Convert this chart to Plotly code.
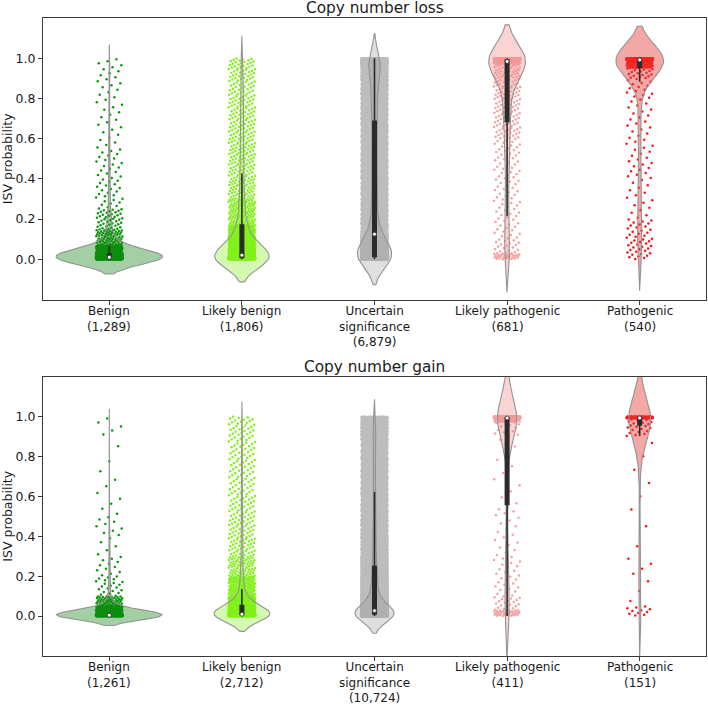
import numpy as np
import plotly.graph_objects as go

# ---------------- data ----------------
categories = ["Benign", "Likely benign", "Uncertain significance", "Likely pathogenic", "Pathogenic"]
loss_tick_labels = ["Benign<br>(1,289)", "Likely benign<br>(1,806)", "Uncertain<br>significance<br>(6,879)",
                    "Likely pathogenic<br>(681)", "Pathogenic<br>(540)"]
gain_tick_labels = ["Benign<br>(1,261)", "Likely benign<br>(2,712)", "Uncertain<br>significance<br>(10,724)",
                    "Likely pathogenic<br>(411)", "Pathogenic<br>(151)"]
y_ticks = [0.0, 0.2, 0.4, 0.6, 0.8, 1.0]

# ISV probability histograms (bin edges + number of CNVs per bin), copy number loss
loss_benign_edges = [0, .01, .03, .07, .15, .25, .4, .55, .7, .85, 1.0]
loss_benign_counts = [645, 330, 120, 70, 40, 25, 20, 12, 12, 15]
loss_lbenign_edges = [0, .01, .05, .1, .17, .3, .4, .5, .6, .7, .8, .9, 1.0]
loss_lbenign_counts = [850, 200, 140, 160, 120, 60, 50, 50, 45, 45, 40, 46]
loss_uncertain_edges = [0, .01, .05, .125, .2, .3, .4, .5, .6, .69, .8, .9, .97, 1.0]
loss_uncertain_counts = [1720, 800, 920, 300, 320, 300, 280, 270, 250, 350, 350, 350, 669]
loss_lpatho_edges = [0, .03, .1, .2, .3, .4, .5, .6, .67, .8, .9, .97, .99, 1.0]
loss_lpatho_counts = [30, 18, 17, 17, 17, 19, 22, 26, 50, 45, 45, 50, 325]
loss_patho_edges = [0, .1, .2, .3, .4, .5, .6, .7, .8, .9, .95, .99, 1.0]
loss_patho_counts = [25, 20, 8, 8, 12, 10, 10, 10, 15, 17, 80, 325]

# copy number gain
gain_benign_edges = [0, .005, .01, .05, .1, .2, .3, .4, .5, .6, .7, .8, .9, 1.0]
gain_benign_counts = [726, 250, 170, 52, 22, 12, 5, 9, 4, 3, 2, 1, 5]
gain_lbenign_edges = [0, .01, .05, .1, .2, .3, .4, .5, .6, .7, .8, .9, 1.0]
gain_lbenign_counts = [1500, 500, 250, 150, 70, 45, 40, 35, 30, 30, 30, 32]
gain_uncertain_edges = [0, .01, .03, .1, .2, .3, .4, .5, .6, .7, .8, .9, 1.0]
gain_uncertain_counts = [4000, 1600, 1200, 900, 650, 450, 350, 300, 280, 260, 250, 484]
gain_lpatho_edges = [0, .03, .1, .2, .3, .4, .5, .55, .7, .9, .97, .99, 1.0]
gain_lpatho_counts = [35, 20, 15, 13, 8, 7, 5, 5, 6, 12, 30, 255]
gain_patho_edges = [0, .05, .2, .3, .5, .7, .9, .94, .99, 1.0]
gain_patho_counts = [11, 3, 4, 2, 3, 3, 8, 15, 102]

# ---------------- styles ----------------
point_colors = ["#0c960c", "#86f01e", "#bdbdbd", "#f4a2a2", "#ff1212"]
violin_fills = ["rgba(16,128,16,0.38)", "rgba(124,240,20,0.33)", "rgba(150,150,150,0.30)",
                "rgba(240,128,128,0.35)", "rgba(230,60,60,0.45)"]
violin_line = "#939393"
box_color = "#2b2b2b"
text_color = "#1a1a1a"
FONT = "DejaVu Sans"


def expand(edges, counts):
    parts = []
    for lo, hi, n in zip(edges[:-1], edges[1:], counts):
        parts.append(lo + (np.arange(n) + 0.5) / n * (hi - lo))
    return np.concatenate(parts)


def radical_inverse(idx, base=3):
    out = np.zeros(len(idx))
    f = 1.0 / base
    k = idx.copy()
    while np.any(k > 0):
        out += f * (k % base)
        k = k // base
        f /= base
    return out


panels = [
    ("Copy number loss", loss_tick_labels,
     [(loss_benign_edges, loss_benign_counts), (loss_lbenign_edges, loss_lbenign_counts),
      (loss_uncertain_edges, loss_uncertain_counts), (loss_lpatho_edges, loss_lpatho_counts),
      (loss_patho_edges, loss_patho_counts)]),
    ("Copy number gain", gain_tick_labels,
     [(gain_benign_edges, gain_benign_counts), (gain_lbenign_edges, gain_lbenign_counts),
      (gain_uncertain_edges, gain_uncertain_counts), (gain_lpatho_edges, gain_lpatho_counts),
      (gain_patho_edges, gain_patho_counts)]),
]

W, H = 708, 708
ML, MR, MT, MB = 43, 2, 18, 52
BOTTOM_PX = H - MB            # bottom of lower frame, px from top
ph = H - MT - MB
top_frame_bottom = 299.5
low_frame_top = 376.5
domains = [[(BOTTOM_PX - top_frame_bottom) / ph, 1.0], [0.0, (BOTTOM_PX - low_frame_top) / ph]]

fig = go.Figure()
annotations = []
for p, (title, ticktext, specs) in enumerate(panels):
    xa = "x" if p == 0 else "x2"
    ya = "y" if p == 0 else "y2"
    data = [expand(e, c) for e, c in specs]

    # KDE (gaussian, Scott bandwidth, cut = 2), area scaling as in seaborn
    supports, dens = [], []
    for v in data:
        n = len(v)
        bw = np.std(v, ddof=1) * n ** (-0.2)
        s = np.linspace(v.min() - 2 * bw, v.max() + 2 * bw, 100)
        d = np.exp(-0.5 * ((s[:, None] - v[None, :]) / bw) ** 2).sum(1) / (n * bw * np.sqrt(2 * np.pi))
        supports.append(s)
        dens.append(d)
    dmax = max(d.max() for d in dens)

    for i, v in enumerate(data):
        n = len(v)
        off = (radical_inverse(np.arange(1, n + 1)) * 2 - 1) * 0.1
        fig.add_trace(go.Scatter(x=i + off, y=v, mode="markers", xaxis=xa, yaxis=ya,
                                 marker=dict(size=2.5, color=point_colors[i], line=dict(width=0)),
                                 showlegend=False, hoverinfo="skip"))
    for i, v in enumerate(data):
        hw = dens[i] / dmax * 0.4
        s = supports[i]
        fig.add_trace(go.Scatter(x=np.concatenate([i - hw, (i + hw)[::-1], [i - hw[0]]]),
                                 y=np.concatenate([s, s[::-1], [s[0]]]),
                                 mode="lines", fill="toself", fillcolor=violin_fills[i],
                                 line=dict(color=violin_line, width=1.1), xaxis=xa, yaxis=ya,
                                 showlegend=False, hoverinfo="skip"))
        q25, q50, q75 = np.percentile(v, [25, 50, 75])
        iqr = q75 - q25
        lo = v[v >= q25 - 1.5 * iqr].min()
        hi = v[v <= q75 + 1.5 * iqr].max()
        fig.add_trace(go.Scatter(x=[i, i], y=[lo, hi], mode="lines", line=dict(color=box_color, width=1.6),
                                 xaxis=xa, yaxis=ya, showlegend=False, hoverinfo="skip"))
        fig.add_trace(go.Scatter(x=[i, i], y=[q25, q75], mode="lines", line=dict(color=box_color, width=5),
                                 xaxis=xa, yaxis=ya, showlegend=False, hoverinfo="skip"))
        fig.add_trace(go.Scatter(x=[i], y=[q50], mode="markers",
                                 marker=dict(size=4, color="white", line=dict(color=box_color, width=0.8)),
                                 xaxis=xa, yaxis=ya, showlegend=False, hoverinfo="skip"))

    axis_common = dict(showline=True, mirror=True, linecolor="#3a3a3a", linewidth=1, showgrid=False,
                       zeroline=False, ticks="outside", ticklen=4, tickwidth=1, tickcolor="#3a3a3a",
                       tickfont=dict(family=FONT, size=12.5, color=text_color))
    xkey = "xaxis" if p == 0 else "xaxis2"
    ykey = "yaxis" if p == 0 else "yaxis2"
    fig.update_layout(**{
        xkey: dict(axis_common, domain=[0, 1], range=[-0.5, 4.5], tickvals=list(range(len(categories))),
                   showticklabels=False, anchor=ya),
        ykey: dict(axis_common, domain=domains[p], range=[-0.2, 1.2], tickvals=y_ticks,
                   ticktext=["%.1f" % t for t in y_ticks], anchor=xa,
                   title=dict(text="ISV probability", font=dict(family=FONT, size=12.5, color=text_color),
                              standoff=5)),
    })
    # category labels
    for i, label in enumerate(ticktext):
        annotations.append(dict(text=label, x=i, xref=xa, y=domains[p][0], yref="paper",
                                xanchor="center", yanchor="top", yshift=-3, showarrow=False, borderpad=0,
                                font=dict(family=FONT, size=12, color=text_color)))
    annotations.append(dict(text=title, x=0.5, xref="paper", y=domains[p][1], yref="paper",
                            xanchor="center", yanchor="middle", yshift=10, showarrow=False,
                            font=dict(family=FONT, size=15.3, color=text_color)))

fig.update_layout(width=W, height=H, margin=dict(l=ML, r=MR, t=MT, b=MB),
                  plot_bgcolor="white", paper_bgcolor="white", annotations=annotations,
                  font=dict(family=FONT))
fig.write_html("out.html", config={"displayModeBar": False, "staticPlot": True},
               post_script="document.body.style.margin='0';")
